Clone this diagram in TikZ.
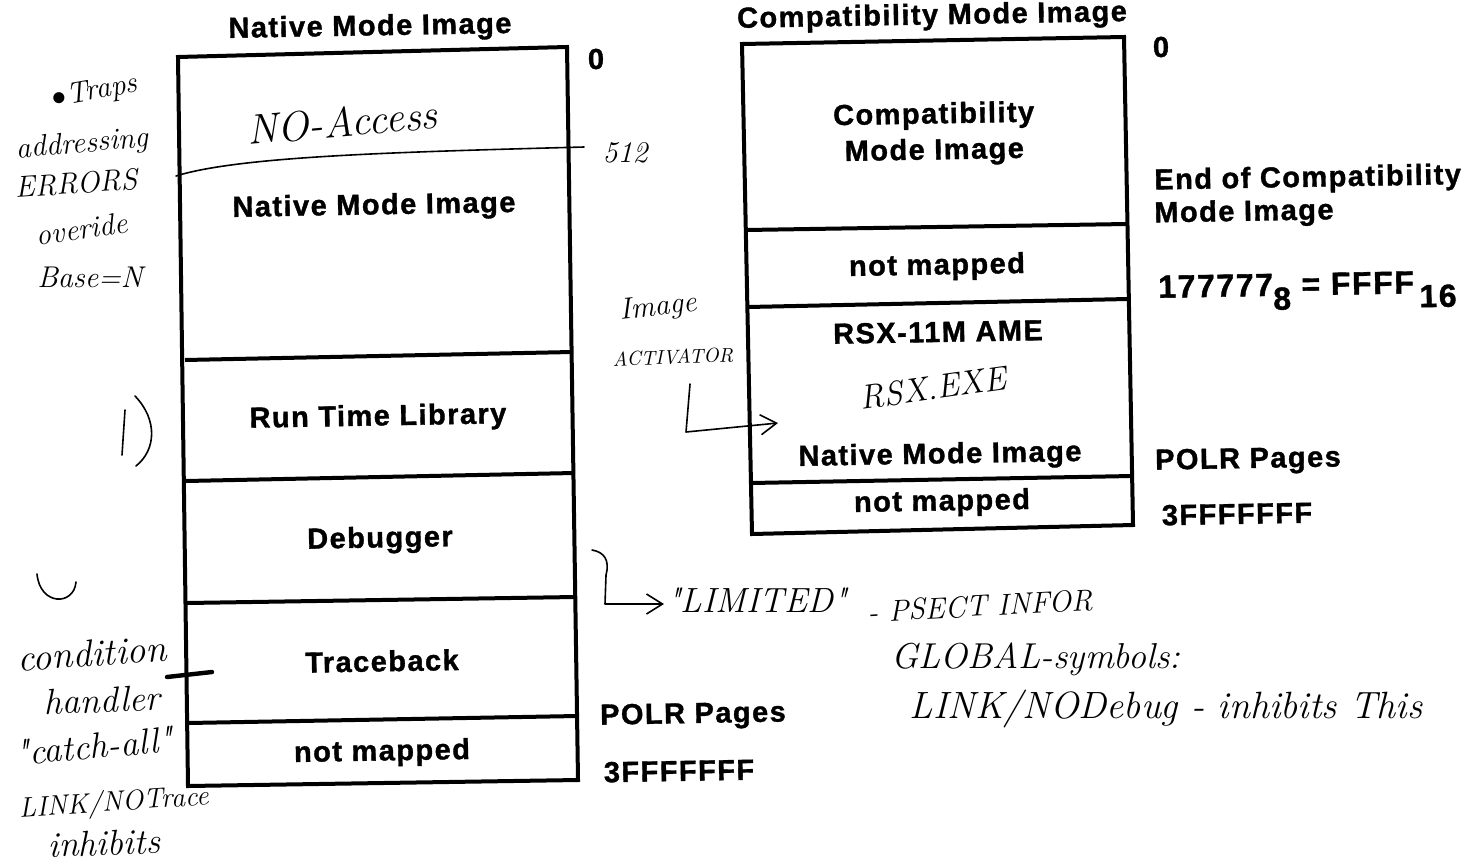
\documentclass[tikz,border=0pt]{standalone}
\usepackage{fontspec}
\setmainfont{Liberation Sans}
\newfontfamily\printed[LetterSpace=5, BoldFeatures={FakeBold=1.2}]{Liberation Sans}
\newfontfamily\scrawl{Latin Modern Roman}
\usetikzlibrary{arrows.meta}
\begin{document}
\begin{tikzpicture}[x=0.5pt,y=-0.5pt,
  frame/.style={line width=2pt, line join=miter},
  lbl/.style={font=\printed\bfseries\fontsize{14.5}{16}\selectfont, inner sep=0pt, rotate=1},
  hand/.style={font=\scrawl\itshape\fontsize{15}{17}\selectfont, inner sep=0pt},
  hsize/.style={font=\scrawl\itshape\fontsize{#1}{#1}\selectfont},
  pen/.style={line width=0.8pt, line cap=round, line join=round}]
\useasboundingbox[fill=white] (0,0) rectangle (1470,867);

% ---------------- Native mode image map ----------------
\coordinate (nTL) at (178,57);  \coordinate (nTR) at (567,47);
\coordinate (nBR) at (578,780); \coordinate (nBL) at (188,786);
\draw[frame] (nTL) -- (nTR) -- (nBR) -- (nBL) -- cycle;
\draw[frame] (185,360) -- (572,352);
\draw[frame] (186,481) -- (574,473);
\draw[frame] (187,603) -- (575,597);
\draw[frame] (188,723) -- (577,716);

\node[lbl] (ntitle) at (370,28) {Native Mode Image};
\node[lbl] (nzero) at (596,59) {0};
\node[lbl] (nimg) at (374,207) {Native Mode Image};
\node[lbl] (nrtl) at (378,418) {Run Time Library};
\node[lbl] (ndbg) at (380,540) {Debugger};
\node[lbl] (ntb) at (382,661) {Traceback};
\node[lbl] (nnm) at (382,753) {not mapped};
\node[lbl] (npolr) at (693,716) {POLR Pages};
\node[lbl] (ntop) at (679,771) {3FFFFFFF};

% ---------------- Compatibility mode image map ----------------
\coordinate (cTL) at (742,44);   \coordinate (cTR) at (1124,37);
\coordinate (cBR) at (1133,525); \coordinate (cBL) at (752,534);
\draw[frame] (cTL) -- (cTR) -- (cBR) -- (cBL) -- cycle;
\draw[frame] (746,230) -- (1127,224);
\draw[frame] (748,307) -- (1128,299);
\draw[frame] (751,483) -- (1132,476);

\node[lbl] (ctitle) at (932,17) {Compatibility Mode Image};
\node[lbl] (czero) at (1161,47) {0};
\node[lbl, align=center] (cimg) at (934,134) {Compatibility\\[2pt]Mode Image};
\node[lbl, anchor=west] (cend1) at (1154,182) {End of Compatibility};
\node[lbl, anchor=west] (cend2) at (1154,215) {Mode Image};
\node[lbl, anchor=west, font=\printed\bfseries\fontsize{16}{18}\selectfont] (coct) at (1158,294)
  {177777\raisebox{-7pt}{8}\,\,=\,\,FFFF\,\raisebox{-7pt}{16}};
\node[lbl] (cnm1) at (937,267) {not mapped};
\node[lbl] (crsx) at (938,332) {RSX-11M AME};
\node[lbl] (cnat) at (940,456) {Native Mode Image};
\node[lbl] (cnm2) at (942,503) {not mapped};
\node[lbl] (cpolr) at (1248,461) {POLR Pages};
\node[lbl] (ctop) at (1237,514) {3FFFFFFF};

% ---------------- pencilled notes ----------------
\draw[pen] (176,176) .. controls (240,156) and (400,152) .. (584,147);
\node[hand, hsize=21, rotate=5] (noacc) at (342,122) {NO-Access};
\node[hand] (n512) at (625,153) {512};

\node[hand, rotate=10] (traps) at (95,92) {$\bullet$Traps};
\node[hand, rotate=5] (addr) at (82,145) {addressing};
\node[hand, rotate=4] (errs) at (76,183) {ERRORS};
\node[hand, rotate=8] (ovr) at (82,229) {overide};
\node[hand] (base) at (90,277) {Base=N};

% brace-like marks beside the run time library
\draw[pen] (125,410) -- (122,455);
\draw[pen] (135,396) .. controls (158,420) and (156,450) .. (136,466);
\draw[pen] (37,574) .. controls (40,606) and (74,606) .. (76,582);

% condition handler note and its pointer
\node[hand, hsize=19, rotate=4] (cond) at (92,653) {condition};
\node[hand, hsize=18, rotate=2] (hndl) at (102,700) {handler};
\node[hand, hsize=18, rotate=5] (catch) at (94,746) {"catch-all"};
\node[hand, hsize=14, rotate=4] (lnt) at (114,804) {LINK/NOTrace};
\node[hand, hsize=18, rotate=2] (inh) at (104,843) {inhibits};
\coordinate (tbmark) at (212,672);
\draw[line width=2.2pt, line cap=round] (167,677) -- (tbmark);

% image activator note
\node[hand, hsize=15, rotate=6] (img) at (658,308) {Image};
\node[hand, hsize=10, rotate=2] (act) at (673,357) {ACTIVATOR};
\coordinate (actA) at (690,384);
\coordinate (actB) at (686,432);
\coordinate (actC) at (778,423);
\draw[pen, -{Straight Barb[length=8pt,width=10pt]}] (actA) -- (actB) -- (actC);
\node[hand, hsize=17, rotate=8] (rsxexe) at (933,388) {RSX.EXE};

% debugger note
\coordinate (hookA) at (592,550);
\coordinate (hookB) at (664,604);
\draw[pen, -{Straight Barb[length=8pt,width=10pt]}] (hookA) .. controls (604,552) and (610,560) .. (606,575)
  -- (605,604) -- (hookB);
\node[hand, hsize=17.5] (lim) at (757,600) {"LIMITED"};
\node[hand, rotate=3] (psect) at (980,606) {- PSECT INFOR};
\node[hand, hsize=18] (glob) at (1036,659) {GLOBAL-symbols:};
\node[hand, hsize=19] (lnd) at (1166,709) {LINK/NODebug - inhibits This};
\end{tikzpicture}
\end{document}
